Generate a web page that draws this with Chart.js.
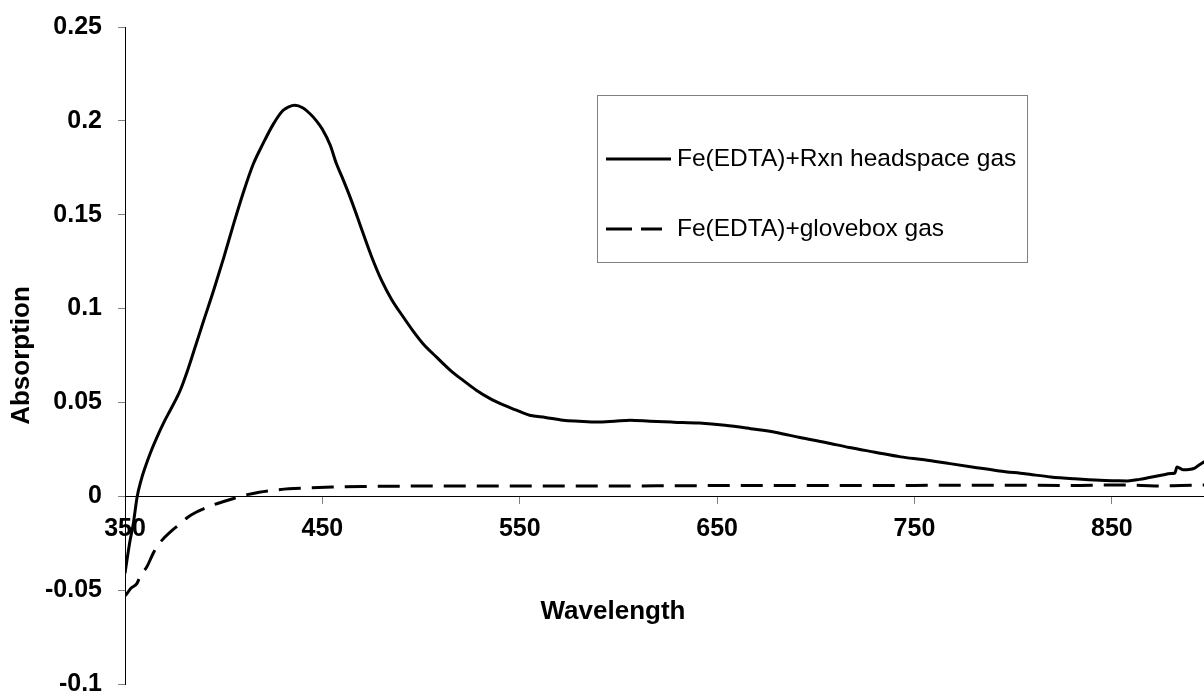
<!DOCTYPE html>
<html lang="en">
<head>
<meta charset="UTF-8">
<title>Absorption spectrum</title>
<script src="https://cdn.jsdelivr.net/npm/chart.js@4.4.3/dist/chart.umd.min.js"></script>
<style>
    * {
        margin: 0;
        padding: 0;
    }
    body {
        background: #fff;
    }
    .chartBox {
        width: 1204px;
        height: 696px;
        position: relative;
    }
</style>
</head>
<body>
<div class="chartBox"><canvas id="myChart"></canvas></div>
<script>
    // values (wavelength in nm, absorption)
    const rxnWavelength = [350, 351, 352.5, 354.2, 356.2, 358, 360, 363, 366, 370, 373, 376, 378, 382, 386, 390, 395, 400, 405, 410,
        415, 420, 425, 430, 433, 436, 440, 444, 447, 450, 454, 457, 460, 464, 468, 471, 475, 480, 485, 491,
        496, 501, 508, 515, 521, 528, 535, 542, 548, 555, 563, 572, 580, 589, 598, 606, 616, 628, 641, 654,
        667, 680, 692, 705, 717, 730, 743, 755, 768, 780, 793, 806, 819, 831, 844, 852, 858, 864, 869, 875,
        880, 882, 883, 886, 889, 892, 894, 897];
    const rxnAbsorption = [-0.041, -0.034, -0.024, -0.0146, 0.000, 0.008, 0.0148, 0.0235, 0.031, 0.040, 0.046, 0.052, 0.0565, 0.068, 0.081, 0.094, 0.110, 0.127, 0.145, 0.162,
        0.177, 0.188, 0.198, 0.2055, 0.2075, 0.2083, 0.207, 0.2035, 0.200, 0.1955, 0.187, 0.1775, 0.170, 0.1595, 0.148, 0.139, 0.1275, 0.115, 0.105, 0.0955,
        0.088, 0.0813, 0.074, 0.067, 0.062, 0.0565, 0.052, 0.0485, 0.046, 0.0432, 0.042, 0.0405, 0.040, 0.0396, 0.040, 0.0405, 0.040, 0.0395, 0.039, 0.0378,
        0.036, 0.034, 0.0313, 0.0287, 0.026, 0.0235, 0.021, 0.0195, 0.0174, 0.0155, 0.0135, 0.012, 0.0103, 0.0093, 0.0085, 0.0083, 0.0082, 0.009, 0.010, 0.0112,
        0.0121, 0.0125, 0.0156, 0.0142, 0.0143, 0.015, 0.0165, 0.0185];

    const gloveWavelength = [350, 351, 353, 356, 358, 361, 364, 366, 370, 374, 378, 382, 386, 390, 395, 400, 405, 412, 418, 425,
        433, 442, 455, 470, 490, 520, 560, 600, 650, 700, 750, 800, 830, 850, 865, 875, 885, 897];
    const gloveAbsorption = [-0.053, -0.0518, -0.049, -0.0465, -0.042, -0.0377, -0.031, -0.027, -0.022, -0.018, -0.0146, -0.011, -0.0085, -0.0066, -0.0045, -0.0028, -0.0012, 0.0009, 0.0022, 0.0032,
        0.004, 0.0044, 0.0049, 0.0052, 0.0054, 0.0055, 0.0055, 0.0055, 0.0057, 0.0057, 0.0058, 0.0059, 0.0058, 0.006, 0.0058, 0.0055, 0.0058, 0.006];

    const seriesLabels = ['Fe(EDTA)+Rxn headspace gas', 'Fe(EDTA)+glovebox gas'];
    const xTicks = [350, 450, 550, 650, 750, 850];
    const yTicks = [-0.1, -0.05, 0, 0.05, 0.1, 0.15, 0.2, 0.25];
    const xTitle = 'Wavelength';
    const yTitle = 'Absorption';

    const toPoints = (xs, ys) => xs.map((x, i) => ({ x: x, y: ys[i] }));

    const FONT = '"Liberation Sans", Arial, sans-serif';
    Chart.defaults.font.family = FONT;
    Chart.defaults.color = '#000';

    // legend box + axis titles drawn where the original has them
    const extras = {
        id: 'extras',
        afterDraw(chart) {
            const ctx = chart.ctx;
            const area = chart.chartArea;
            ctx.save();

            ctx.strokeStyle = '#808080';
            ctx.lineWidth = 1;
            ctx.strokeRect(597.5, 95.5, 430, 167);
            ctx.font = '24.5px ' + FONT;
            ctx.textBaseline = 'middle';
            ctx.textAlign = 'left';
            ctx.fillStyle = '#000';
            chart.data.datasets.forEach((ds, i) => {
                const y = 159 + i * 70;
                ctx.beginPath();
                ctx.lineWidth = 3;
                ctx.strokeStyle = '#000';
                ctx.setLineDash(ds.borderDash.length ? [26, 9] : []);
                ctx.moveTo(606, y);
                ctx.lineTo(ds.borderDash.length ? 662 : 671, y);
                ctx.stroke();
                ctx.setLineDash([]);
                ctx.fillText(ds.label, 677, y);
            });

            ctx.font = 'bold 26px ' + FONT;
            ctx.textAlign = 'center';
            ctx.fillText(xTitle, area.left + 488, 612);

            ctx.translate(22, (area.top + area.bottom) / 2);
            ctx.rotate(-Math.PI / 2);
            ctx.fillText(yTitle, 0, 0);
            ctx.restore();
        }
    };

    const config = {
        type: 'line',
        data: {
            datasets: [{
                label: seriesLabels[0],
                data: toPoints(rxnWavelength, rxnAbsorption),
                borderColor: '#000',
                borderWidth: 3,
                borderDash: [],
                pointRadius: 0,
                cubicInterpolationMode: 'monotone',
                fill: false
            }, {
                label: seriesLabels[1],
                data: toPoints(gloveWavelength, gloveAbsorption),
                borderColor: '#000',
                borderWidth: 3,
                borderDash: [22, 11],
                pointRadius: 0,
                cubicInterpolationMode: 'monotone',
                fill: false
            }]
        },
        options: {
            responsive: true,
            maintainAspectRatio: false,
            animation: false,
            layout: {
                padding: { top: 27, bottom: 12, left: 0, right: 0 }
            },
            plugins: {
                legend: { display: false },
                tooltip: { enabled: false }
            },
            scales: {
                x: {
                    type: 'linear',
                    position: { y: 0 },
                    min: 350,
                    max: 896.7,
                    afterBuildTicks: (s) => { s.ticks = xTicks.map(v => ({ value: v })); },
                    afterFit: (s) => { s.paddingLeft = 0; s.paddingRight = 0; },
                    grid: { drawOnChartArea: false, drawTicks: true, tickLength: 7, color: '#808080' },
                    border: { color: '#000', width: 1 },
                    ticks: {
                        font: { size: 25, weight: 'bold' },
                        padding: 11,
                        maxRotation: 0,
                        callback: (v) => String(v)
                    }
                },
                y: {
                    min: -0.1,
                    max: 0.25,
                    afterBuildTicks: (s) => { s.ticks = yTicks.map(v => ({ value: v })); },
                    afterFit: (s) => { s.width = 125; s.paddingTop = 0; s.paddingBottom = 0; },
                    grid: { drawOnChartArea: false, drawTicks: true, tickLength: 7, color: '#808080' },
                    border: { color: '#000', width: 1 },
                    ticks: {
                        font: { size: 25, weight: 'bold' },
                        padding: 16,
                        callback: (v) => String(Math.round(v * 100) / 100)
                    }
                }
            }
        },
        plugins: [extras]
    };

    new Chart(document.getElementById('myChart'), config);
</script>
</body>
</html>
